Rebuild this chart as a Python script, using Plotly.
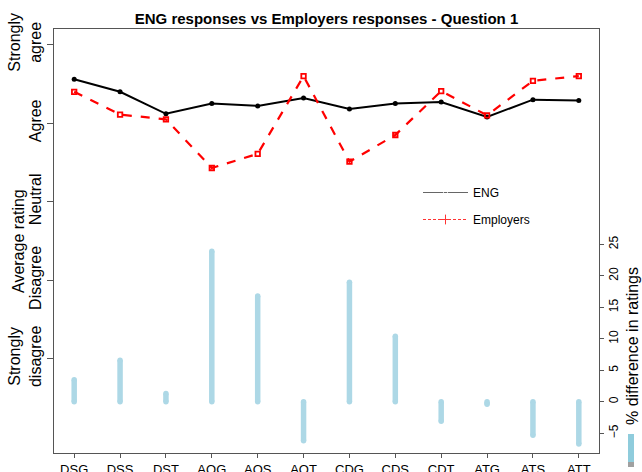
import plotly.graph_objects as go

categories = ["DSG", "DSS", "DST", "AOG", "AOS", "AOT", "CDG", "CDS", "CDT", "ATG", "ATS", "ATT"]
eng = [4.56, 4.40, 4.12, 4.25, 4.22, 4.32, 4.18, 4.25, 4.27, 4.08, 4.30, 4.29]
employers = [4.40, 4.11, 4.05, 3.43, 3.61, 4.60, 3.51, 3.85, 4.41, 4.10, 4.54, 4.60]
pct_diff = [3.5, 6.6, 1.3, 23.9, 16.8, -6.2, 19.0, 10.4, -3.1, -0.4, -5.3, -6.7]
rating_vals = [1, 2, 3, 4, 5]
rating_text = ["Strongly<br>disagree", "Disagree", "Neutral", "Agree", "Strongly<br>agree"]
pct_ticks = [-5, 0, 5, 10, 15, 20, 25]

W, H = 642, 472
L, R, T, B = 54, 599, 29, 453
FONT = "Liberation Sans, Arial, sans-serif"

x = list(range(1, len(categories) + 1))

fig = go.Figure()

# difference bars (segments from 0 to value)
bx, by = [], []
for xi, v in zip(x, pct_diff):
    bx += [xi, xi, None]
    by += [0, v, None]
fig.add_trace(go.Scatter(
    x=bx, y=by, yaxis="y2", mode="lines+markers",
    line=dict(color="#ADD8E6", width=5.5),
    marker=dict(color="#ADD8E6", size=5.5, symbol="circle"),
    showlegend=False, hoverinfo="skip"))

fig.add_trace(go.Scatter(
    x=x, y=eng, mode="lines+markers",
    line=dict(color="black", width=2),
    marker=dict(color="black", size=5, symbol="circle"),
    showlegend=False))
fig.add_trace(go.Scatter(
    x=x, y=employers, mode="lines+markers",
    line=dict(color="#FF0000", width=2.2, dash="dash"),
    marker=dict(color="#FF0000", size=4.5, symbol="square-open", line=dict(width=1.8, color="#FF0000")),
    showlegend=False))

# legend-only entries
fig.add_trace(go.Scatter(
    x=[None], y=[None], mode="lines+markers", name="ENG", legendgroup="a",
    line=dict(color="#666666", width=1.2),
    marker=dict(color="white", size=4, symbol="circle-open", line=dict(color="#666666", width=1))))
fig.add_trace(go.Scatter(
    x=[None], y=[None], mode="lines+markers", name="Employers", legendgroup="b",
    line=dict(color="#FF3333", width=1.2, dash="3px,2px"),
    marker=dict(color="#FF3333", size=7, symbol="cross-thin", line=dict(color="#FF3333", width=1))))

fig.update_layout(
    width=W, height=H,
    margin=dict(l=L, r=W - R, t=T, b=H - B, autoexpand=False),
    paper_bgcolor="white", plot_bgcolor="white",
    font=dict(family=FONT, color="black"),
    title=dict(text="<b>ENG responses vs Employers responses - Question 1</b>",
               x=(L + R) / 2 / W, xanchor="center", xref="container",
               y=1 - 19 / H, yanchor="middle", yref="container",
               font=dict(size=15, family=FONT, color="black")),
    xaxis=dict(range=[0.56, 12.44], tickmode="array", tickvals=x, ticktext=categories,
               showgrid=False, zeroline=False, showline=True, mirror=True,
               linecolor="#555555", linewidth=1, ticks="outside", ticklen=4,
               tickcolor="#555555", tickfont=dict(size=13)),
    yaxis=dict(range=[-0.2, 5.2], tickmode="array", tickvals=rating_vals, ticktext=rating_text,
               tickangle=-90, showgrid=False, zeroline=False, showline=True, mirror=True,
               linecolor="#555555", linewidth=1, ticks="outside", ticklen=6,
               tickcolor="#555555", tickfont=dict(size=16)),
    yaxis2=dict(range=[-8.13, 59.2], overlaying="y", side="right", tickmode="array",
                tickvals=pct_ticks, tickangle=-90, showgrid=False, zeroline=False,
                showline=False, ticks="outside", ticklen=4, tickcolor="#555555",
                tickfont=dict(size=12)),
    legend=dict(x=(418 - L) / (R - L), y=(B - 178) / (B - T), xanchor="left", yanchor="top",
                bgcolor="rgba(0,0,0,0)", font=dict(size=12), tracegroupgap=8,
                traceorder="grouped", itemwidth=45),
    annotations=[
        dict(text="Average rating", xref="paper", yref="paper",
             x=(18 - L) / (R - L), y=0.5 - (241 - (T + B) / 2) / (B - T),
             textangle=-90, showarrow=False, font=dict(size=16),
             xanchor="center", yanchor="middle"),
        dict(text="% difference in ratings", xref="paper", yref="paper",
             x=(632 - L) / (R - L), y=(B - 346) / (B - T),
             textangle=-90, showarrow=False, font=dict(size=16),
             xanchor="center", yanchor="middle"),
    ],
    shapes=[
        dict(type="rect", xref="paper", yref="paper",
             x0=(628 - L) / (R - L), x1=(634 - L) / (R - L),
             y0=(B - 462) / (B - T), y1=(B - 434) / (B - T),
             fillcolor="#8FCCDC", line=dict(width=0)),
        dict(type="rect", xref="paper", yref="paper",
             x0=(628 - L) / (R - L), x1=(634 - L) / (R - L),
             y0=(B - 467) / (B - T), y1=(B - 462) / (B - T),
             fillcolor="#A0A0A0", line=dict(width=0)),
    ],
)

fig.write_html("out.html")
